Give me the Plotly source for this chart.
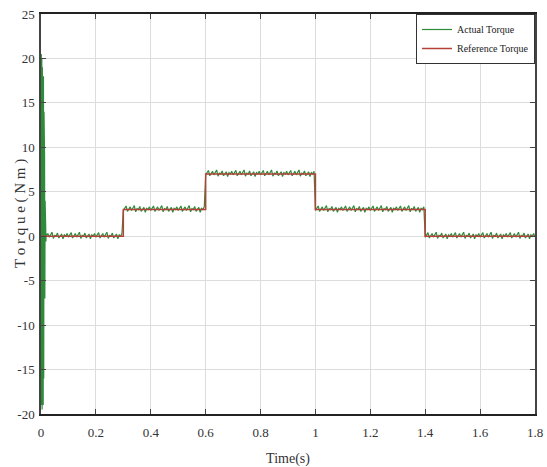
import plotly.graph_objects as go

# Reference torque steps (Nm)
ref_t = [0.0, 0.3, 0.6, 1.0, 1.4, 1.8]
ref_v = [0.0, 3.0, 7.0, 3.0, 0.0, 0.0]

# Start-up oscillation of actual torque
start_t = [0.0, 0.001, 0.002, 0.003, 0.004, 0.005, 0.006, 0.007, 0.008, 0.009,
           0.010, 0.011, 0.012, 0.013, 0.014, 0.015, 0.016, 0.017, 0.018, 0.019, 0.020]
start_v = [0.0, 20.5, -19.0, 20.0, -19.5, 19.0, -18.5, 17.0, -19.0, 18.0,
           -16.0, 14.0, -12.0, 9.0, -7.0, 4.0, -2.5, 1.2, -0.6, 0.3, 0.0]

# Ripple deviations
ripple = [0.05, 0.3, -0.1, 0.15, 0.45, -0.25, 0.1, 0.0, 0.35, -0.2,
          0.05, 0.25, -0.3, 0.15, 0.0, 0.3, -0.1, 0.1, 0.4, -0.2]

x_ticks = [0, 0.2, 0.4, 0.6, 0.8, 1, 1.2, 1.4, 1.6, 1.8]
x_tick_text = ["0", "0.2", "0.4", "0.6", "0.8", "1", "1.2", "1.4", "1.6", "1.8"]
y_ticks = [-20, -15, -10, -5, 0, 5, 10, 15, 20, 25]
y_tick_text = ["-20", "-15", "-10", "-5", "0", "5", "10", "15", "20", "25"]


def ref_at(t):
    val = ref_v[0]
    for tt, vv in zip(ref_t, ref_v):
        if t >= tt - 1e-9:
            val = vv
    return val


act_t = list(start_t)
act_v = list(start_v)
n = 1
while True:
    t = round(0.02 + 0.005 * n, 4)
    if t > 1.8:
        break
    act_t.append(t)
    act_v.append(ref_at(t) + ripple[n % len(ripple)])
    n += 1

fig = go.Figure()
fig.add_trace(go.Scatter(x=act_t, y=act_v, mode="lines", name="Actual Torque",
                         line=dict(color="#2e8b3a", width=1.2)))
fig.add_trace(go.Scatter(x=ref_t, y=ref_v, mode="lines", name="Reference Torque",
                         line=dict(color="#b5403a", width=1.5, shape="hv")))

font_family = "Liberation Serif, Times New Roman, serif"
fig.update_layout(
    width=547, height=467,
    margin=dict(l=41, r=12, t=14, b=53),
    paper_bgcolor="white", plot_bgcolor="white",
    font=dict(family=font_family, size=13, color="#333"),
    showlegend=True,
    legend=dict(x=1, y=1, xanchor="right", yanchor="top",
                bgcolor="white", bordercolor="#333", borderwidth=1,
                font=dict(family=font_family, size=10, color="#222"),
                tracegroupgap=0, itemwidth=30),
    xaxis=dict(range=[0, 1.8], tickvals=x_ticks, ticktext=x_tick_text,
               showgrid=True, gridcolor="#dcdcdc", gridwidth=1,
               showline=True, linecolor="#222", linewidth=1.5, mirror="ticks",
               ticks="inside", ticklen=5, tickcolor="#444",
               zeroline=False, automargin=False, ticklabelstandoff=6,
               ticklabeloverflow="allow",
               title=dict(text="Time(s)", standoff=14, font=dict(size=14))),
    yaxis=dict(range=[-20, 25], tickvals=y_ticks, ticktext=y_tick_text,
               showgrid=True, gridcolor="#dcdcdc", gridwidth=1,
               showline=True, linecolor="#444", linewidth=1.5, mirror="ticks",
               ticks="inside", ticklen=5, tickcolor="#444",
               zeroline=False, automargin=False, ticklabelstandoff=2,
               ticklabeloverflow="allow"),
    annotations=[dict(text="T o r q u e ( N m )", xref="paper", yref="paper",
                      x=-0.0425, y=0.5, xanchor="center", yanchor="middle",
                      textangle=-90, showarrow=False,
                      font=dict(family=font_family, size=15, color="#333"))],
)

fig.write_html("out.html", config={"displayModeBar": False},
               post_script="document.body.style.margin='0';document.body.style.overflow='hidden';")
